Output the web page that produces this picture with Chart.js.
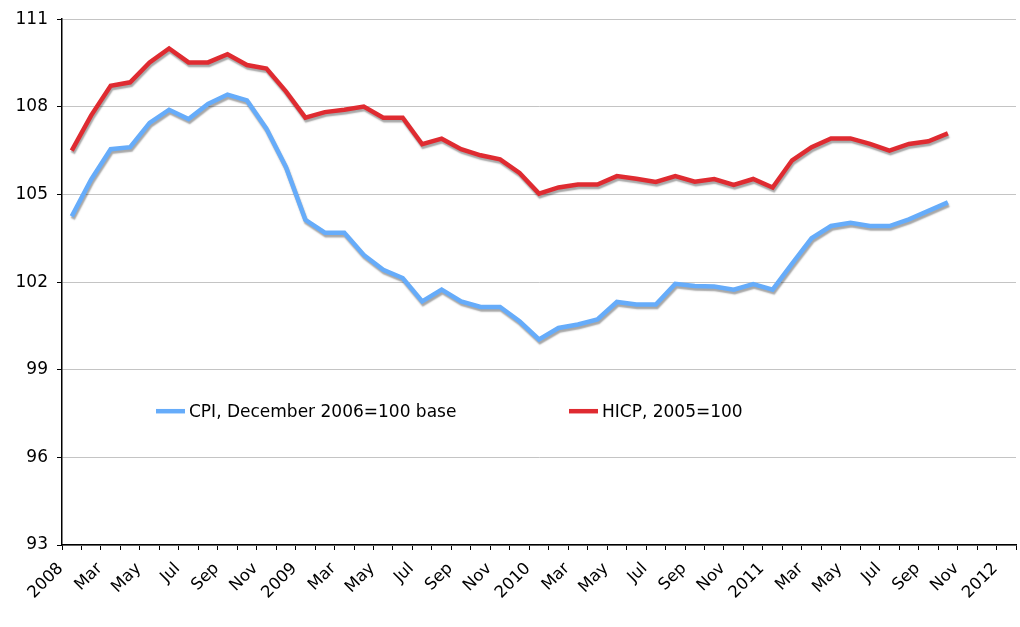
<!DOCTYPE html>
<html>
<head>
<meta charset="utf-8">
<script src="https://cdn.jsdelivr.net/npm/chart.js@4/dist/chart.umd.min.js"></script>
<style>
  html, body { margin: 0; padding: 0; background: #fff; }
  #wrap { width: 1020px; height: 627px; }
</style>
</head>
<body>
<div id="wrap"><canvas id="c" width="1020" height="627"></canvas></div>
<script>
// monthly, Jan 2008 .. Jan 2012 (category axis)
const years = ["2008", "2009", "2010", "2011"];
const monthAbbr = ["Jan", "Feb", "Mar", "Apr", "May", "Jun", "Jul", "Aug", "Sep", "Oct", "Nov", "Dec"];
const categories = [];
years.forEach(y => monthAbbr.forEach((m, i) => categories.push(i === 0 ? y : m)));
categories.push("2012");

// Jan 2008 .. Oct 2011
const cpi = [
    104.25, 105.52, 106.55, 106.62, 107.45, 107.9, 107.58, 108.1, 108.42, 108.22, 107.25, 105.94,
    104.13, 103.69, 103.69, 102.93, 102.42, 102.14, 101.34, 101.74, 101.34, 101.15, 101.15, 100.66,
    100.04, 100.43, 100.55, 100.72, 101.32, 101.23, 101.23, 101.94, 101.87, 101.85, 101.74, 101.93,
    101.74, 102.63, 103.5, 103.92, 104.03, 103.92, 103.92, 104.15, 104.44, 104.73
];
const hicp = [
    106.5, 107.71, 108.72, 108.84, 109.52, 110.0, 109.52, 109.52, 109.8, 109.43, 109.31, 108.53,
    107.63, 107.82, 107.9, 108.01, 107.63, 107.63, 106.72, 106.91, 106.55, 106.34, 106.2, 105.74,
    105.03, 105.24, 105.34, 105.34, 105.63, 105.54, 105.43, 105.63, 105.44, 105.53, 105.33, 105.53,
    105.24, 106.17, 106.62, 106.92, 106.92, 106.73, 106.5, 106.73, 106.82, 107.09
];

const seriesNames = ["CPI, December 2006=100 base", "HICP, 2005=100"];
const colors = ["#66acfa", "#df2b31"];
const FONT = "'DejaVu Sans', Verdana, sans-serif";

// grey drop shadow under each line
const shadowPlugin = {
    id: "shadow",
    beforeDatasetDraw: (chart) => {
        const ctx = chart.ctx;
        ctx.save();
        ctx.shadowColor = "rgba(0,0,0,0.35)";
        ctx.shadowBlur = 1.5;
        ctx.shadowOffsetX = 1;
        ctx.shadowOffsetY = 2.5;
    },
    afterDatasetDraw: (chart) => {
        chart.ctx.restore();
    }
};

// legend sits inside the plot
const innerLegend = {
    id: "innerLegend",
    afterDatasetsDraw: (chart, args, opts) => {
        const ctx = chart.ctx;
        const area = chart.chartArea;
        ctx.save();
        ctx.font = opts.font;
        ctx.textBaseline = "middle";
        chart.data.datasets.forEach((ds, i) => {
            const x = area.left + opts.xs[i];
            const y = area.top + opts.y;
            ctx.strokeStyle = ds.borderColor;
            ctx.lineWidth = 4.5;
            ctx.beginPath();
            ctx.moveTo(x, y);
            ctx.lineTo(x + 29, y);
            ctx.stroke();
            ctx.fillStyle = "#000";
            ctx.fillText(ds.label, x + 33, y + 1);
        });
        ctx.restore();
    }
};

const datasets = [cpi, hicp].map((values, i) => ({
    label: seriesNames[i],
    data: values,
    borderColor: colors[i],
    backgroundColor: colors[i],
    borderWidth: 4.5,
    pointRadius: 0,
    tension: 0,
    fill: false
}));

new Chart(document.getElementById("c"), {
    type: "line",
    data: { labels: categories, datasets },
    options: {
        responsive: false,
        animation: false,
        devicePixelRatio: 1,
        layout: { padding: { top: 18, right: 4, left: 0, bottom: 0 } },
        plugins: {
            legend: { display: false },
            tooltip: { enabled: false },
            innerLegend: { xs: [94, 507], y: 392, font: "17px " + FONT }
        },
        scales: {
            x: {
                type: "category",
                offset: true,
                grid: {
                    offset: true,
                    drawOnChartArea: false,
                    drawTicks: true,
                    tickLength: 5,
                    tickColor: "#000"
                },
                border: { color: "#000", width: 1.5 },
                ticks: {
                    autoSkip: false,
                    maxRotation: 45,
                    minRotation: 45,
                    padding: 9,
                    labelOffset: -11,
                    color: "#000",
                    font: { family: FONT, size: 16.5 },
                    callback: function (v, i) { return i % 2 === 0 ? this.getLabelForValue(v) : ""; }
                },
                afterFit: (s) => {
                    s.height = 82;
                    s.paddingLeft = 0;
                    s.paddingRight = 0;
                }
            },
            y: {
                min: 93,
                max: 111,
                ticks: {
                    stepSize: 3,
                    color: "#000",
                    padding: 9,
                    font: { family: FONT, size: 17 }
                },
                grid: {
                    color: "#c4c4c4",
                    tickColor: "#000",
                    tickLength: 5,
                    lineWidth: 1
                },
                border: { color: "#000", width: 1.5 },
                afterFit: (s) => { s.width = 62; }
            }
        }
    },
    plugins: [shadowPlugin, innerLegend]
});
</script>
</body>
</html>
